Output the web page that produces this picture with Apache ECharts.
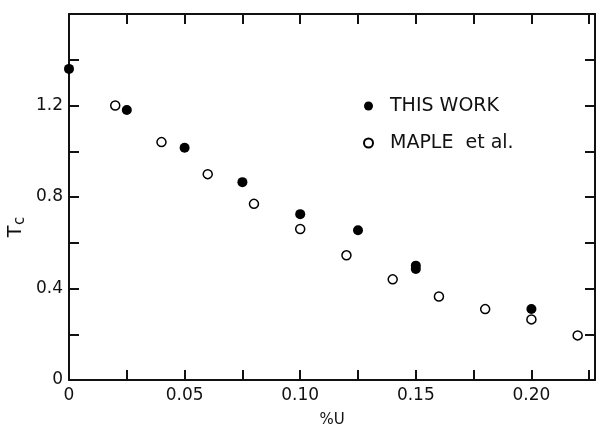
<!DOCTYPE html>
<html>
<head>
<meta charset="utf-8">
<script src="https://cdn.jsdelivr.net/npm/echarts@6/dist/echarts.min.js"></script>
<style>
html,body{margin:0;padding:0;background:#fff;}
#c{width:597px;height:426px;}
</style>
</head>
<body>
<div id="c"></div>
<script>
// Data
const thisWorkX = [0, 0.025, 0.05, 0.075, 0.10, 0.125, 0.15, 0.15, 0.20];
const thisWorkY = [1.36, 1.18, 1.015, 0.865, 0.725, 0.655, 0.50, 0.485, 0.31];
const mapleX = [0.02, 0.04, 0.06, 0.08, 0.10, 0.12, 0.14, 0.16, 0.18, 0.20, 0.22];
const mapleY = [1.20, 1.04, 0.90, 0.77, 0.66, 0.545, 0.44, 0.365, 0.31, 0.265, 0.195];
const xTickValues = [0, 0.05, 0.10, 0.15, 0.20];
const xTickLabels = ['0', '0.05', '0.10', '0.15', '0.20'];
const yTickValues = [0, 0.4, 0.8, 1.2];
const yTickLabels = ['0', '0.4', '0.8', '1.2'];
const seriesNames = ['THIS WORK', 'MAPLE  et al.'];
const xName = '%U';

const FONT = 'DejaVu Sans';
function labelFor(values, labels) {
  return function (v) {
    for (let i = 0; i < values.length; i++) {
      if (Math.abs(values[i] - v) < 1e-6) return labels[i];
    }
    return '';
  };
}
const axisLine = { show: true, onZero: false, lineStyle: { color: '#111', width: 2 } };
const tickIn = { show: true, inside: true, length: 10, lineStyle: { color: '#111', width: 2 } };
const xCommon = { type: 'value', min: 0, max: 0.2275, interval: 0.025, splitLine: { show: false } };
const yCommon = { type: 'value', min: 0, max: 1.6, interval: 0.2, splitLine: { show: false } };

const chart = echarts.init(document.getElementById('c'), null, { renderer: 'canvas' });
chart.setOption({
  backgroundColor: '#fff',
  animation: false,
  grid: { left: 69, right: 2, top: 14, bottom: 46, containLabel: false, outerBoundsMode: 'none' },
  legend: {
    orient: 'vertical',
    left: 358,
    top: 91,
    itemWidth: 9,
    itemHeight: 9,
    itemGap: 17,
    textStyle: { fontFamily: FONT, fontSize: 19, color: '#111', lineHeight: 20, padding: [0, 0, 0, 12] },
    data: seriesNames
  },
  xAxis: [
    Object.assign({}, xCommon, {
      position: 'bottom',
      axisLine: axisLine, axisTick: tickIn,
      axisLabel: { show: true, margin: 7, color: '#111', fontFamily: FONT, fontSize: 17,
        showMaxLabel: false, formatter: labelFor(xTickValues, xTickLabels) },
      name: xName, nameLocation: 'middle', nameGap: 33,
      nameTextStyle: { fontFamily: FONT, fontSize: 15, color: '#111' }
    }),
    Object.assign({}, xCommon, {
      position: 'top',
      axisLine: axisLine, axisTick: tickIn, axisLabel: { show: false }
    })
  ],
  yAxis: [
    Object.assign({}, yCommon, {
      position: 'left',
      axisLine: axisLine, axisTick: tickIn,
      axisLabel: { show: true, margin: 6, color: '#111', fontFamily: FONT, fontSize: 17,
        formatter: labelFor(yTickValues, yTickLabels) }
    }),
    Object.assign({}, yCommon, {
      position: 'right',
      axisLine: axisLine, axisTick: tickIn, axisLabel: { show: false }
    })
  ],
  graphic: [
    { type: 'text', x: 16.5, y: 231.5, rotation: Math.PI / 2,
      style: { text: 'T', fontFamily: FONT, fontSize: 19, fill: '#111', align: 'center', verticalAlign: 'middle' } },
    { type: 'text', x: 20.5, y: 221, rotation: Math.PI / 2,
      style: { text: 'c', fontFamily: FONT, fontSize: 15, fill: '#111', align: 'center', verticalAlign: 'middle' } }
  ],
  series: [
    {
      name: seriesNames[0], type: 'scatter', xAxisIndex: 0, yAxisIndex: 0,
      symbol: 'circle', symbolSize: 10,
      itemStyle: { color: '#000', opacity: 1 },
      data: thisWorkX.map((x, i) => [x, thisWorkY[i]]),
      z: 5
    },
    {
      name: seriesNames[1], type: 'scatter', xAxisIndex: 0, yAxisIndex: 0,
      symbol: 'circle', symbolSize: 9,
      itemStyle: { color: '#fff', borderColor: '#000', borderWidth: 1.5, opacity: 1 },
      data: mapleX.map((x, i) => [x, mapleY[i]]),
      z: 4
    }
  ]
});
</script>
</body>
</html>
